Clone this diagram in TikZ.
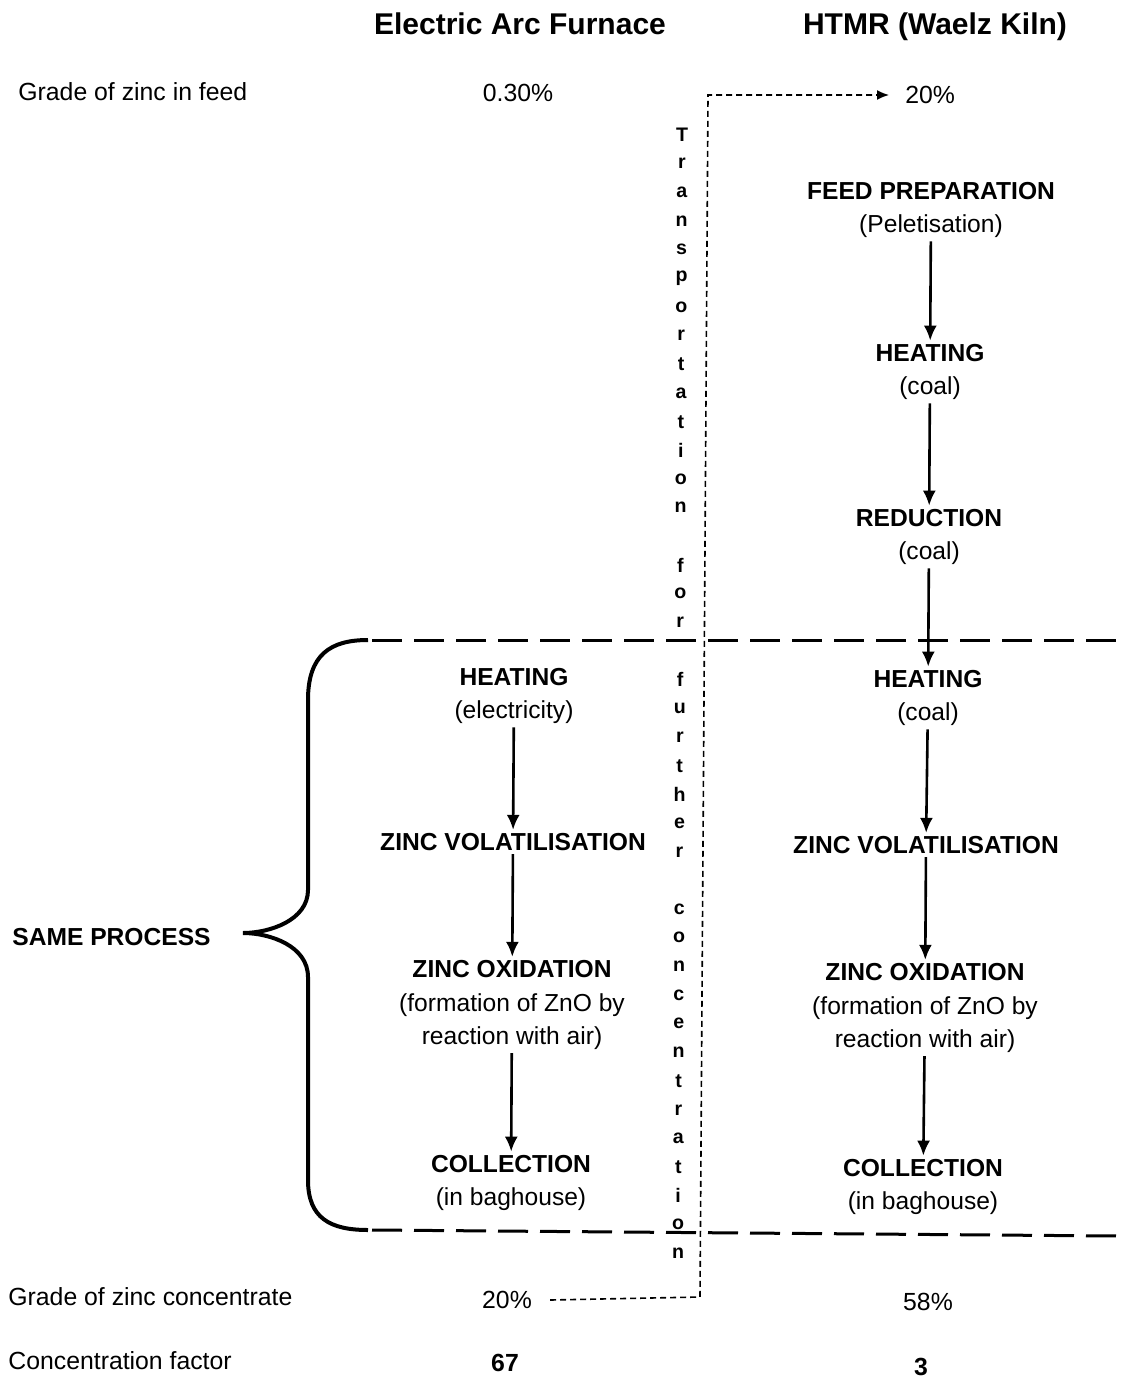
\documentclass[tikz,border=0pt]{standalone}
\usepackage{fontspec}
\setmainfont{Liberation Sans}
\usetikzlibrary{arrows.meta,calc}

\tikzset{
  stage/.style={align=center, inner sep=1.5pt, font=\fontsize{12.3}{16.8}\selectfont},
  rowtext/.style={inner sep=0pt, font=\fontsize{12.4}{15}\selectfont},
  heading/.style={inner sep=0pt, font=\fontsize{15}{18}\selectfont\bfseries},
  flow/.style={-{Latex[length=7.5pt,width=6.5pt]}, line width=1.3pt},
  boundary/.style={dash pattern=on 15pt off 6pt, line width=1.5pt},
  transport/.style={dash pattern=on 3pt off 2pt, line width=0.8pt},
  vletter/.style={inner sep=0pt, font=\fontsize{9.8}{10}\selectfont\bfseries}
}

\begin{document}
\begin{tikzpicture}[x=0.5pt, y=-0.5pt]
  \useasboundingbox (0,0) rectangle (1123,1384);
  %Column headings:
  \node[heading] (efTitle) at (520,24) {Electric Arc Furnace};
  \node[heading] (wkTitle) at (935,27) {HTMR (Waelz Kiln)};

  %Row labels and values:
  \node[rowtext, anchor=west] (gFeed) at (18,92) {Grade of zinc in feed};
  \node[rowtext] (efFeed) at (518,93) {0.30\%};
  \node[rowtext, anchor=west] (wkFeedGrade) at (905,95) {20\%};
  \node[rowtext, anchor=west] (gConc) at (8,1297) {Grade of zinc concentrate};
  \node[rowtext] (efConc) at (507,1300) {20\%};
  \node[rowtext] (wkConc) at (928,1302) {58\%};
  \node[rowtext, anchor=west] (gFac) at (8,1361) {Concentration factor};
  \node[rowtext, font=\fontsize{12.4}{15}\selectfont\bfseries] (efFac) at (505,1363) {67};
  \node[rowtext, font=\fontsize{12.4}{15}\selectfont\bfseries] (wkFac) at (921,1367) {3};
  \node[rowtext, font=\fontsize{12.3}{15}\selectfont\bfseries, anchor=west] (same) at (12,937) {SAME PROCESS};

  %Electric arc furnace steps:
  \node[stage] (efHeat) at (514,696) {\textbf{HEATING}\\(electricity)};
  \node[stage] (efVol) at (513,842) {\textbf{ZINC VOLATILISATION}};
  \node[stage] (efOx) at (512,1005) {\textbf{ZINC OXIDATION}\\(formation of ZnO by\\reaction with air)};
  \node[stage] (efColl) at (511,1183) {\textbf{COLLECTION}\\(in baghouse)};
  \draw[flow] (efHeat) -- (efVol);
  \draw[flow] (efVol) -- (efOx);
  \draw[flow] (efOx) -- (efColl);

  %Waelz kiln steps:
  \node[stage] (wkFeed) at (931,210) {\textbf{FEED PREPARATION}\\(Peletisation)};
  \node[stage] (wkHeatA) at (930,372) {\textbf{HEATING}\\(coal)};
  \node[stage] (wkRed) at (929,537) {\textbf{REDUCTION}\\(coal)};
  \node[stage] (wkHeatB) at (928,698) {\textbf{HEATING}\\(coal)};
  \node[stage] (wkVol) at (926,845) {\textbf{ZINC VOLATILISATION}};
  \node[stage] (wkOx) at (925,1008) {\textbf{ZINC OXIDATION}\\(formation of ZnO by\\reaction with air)};
  \node[stage] (wkColl) at (923,1187) {\textbf{COLLECTION}\\(in baghouse)};
  \draw[flow] (wkFeed) -- (wkHeatA);
  \draw[flow] (wkHeatA) -- (wkRed);
  \draw[flow] (wkRed) -- (wkHeatB);
  \draw[flow] (wkHeatB) -- (wkVol);
  \draw[flow] (wkVol) -- (wkOx);
  \draw[flow] (wkOx) -- (wkColl);

  %The brace and the dashed limits of the common process:
  \draw[line width=2pt] (368,640) .. controls (330,640) and (308,655) .. (308,700)
    -- (308,890) .. controls (308,920) and (270,933) .. (243,933)
    .. controls (270,933) and (308,946) .. (308,977)
    -- (308,1180) .. controls (308,1218) and (330,1230) .. (368,1230);
  \draw[boundary] (372,640) -- (1123,640);
  \draw[boundary] (372,1230) -- (1118,1236);

  %Transport path:
  \coordinate (tBot) at (700,1297);
  \coordinate (tTop) at (708,95);
  \draw[transport, -{Latex[length=6pt,width=5pt]}, shorten >=8pt]
    ($(efConc.east)+(18,0)$) -- (tBot) -- (tTop) -- (wkFeedGrade.west);
  \foreach \ch [count=\k, evaluate={\ty=135+28.67*(\k-1); \tx=682-4*(\k-1)/39;}]
    in {T,r,a,n,s,p,o,r,t,a,t,i,o,n,{},f,o,r,{},f,u,r,t,h,e,r,{},c,o,n,c,e,n,t,r,a,t,i,o,n}{
    \node[vletter] (tl\k) at (\tx,\ty) {\ch};
  }
\end{tikzpicture}
\end{document}
